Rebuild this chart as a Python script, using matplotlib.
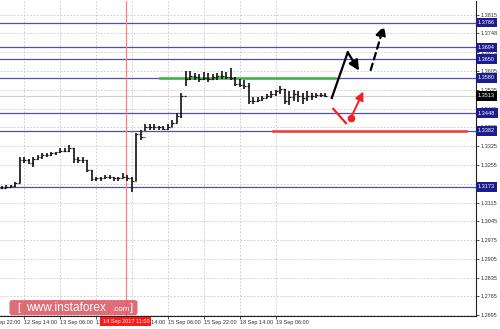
import matplotlib.pyplot as plt
from matplotlib.patches import FancyBboxPatch
import numpy as np

plt.rcParams['font.family'] = ['Liberation Sans', 'DejaVu Sans']

# hourly bar index: 0 = 12 Sep 14:00, bars are 2 hours wide here
bar_x = np.arange(-10, 136, 2)

highs = [1.3175, 1.3179, 1.3179, 1.3190, 1.3283, 1.3283, 1.3279, 1.3283, 1.3291, 1.3298,
         1.3298, 1.3305, 1.3305, 1.3317, 1.3317, 1.3328, 1.3320, 1.3283, 1.3283, 1.3272,
         1.3238, 1.3212, 1.3212, 1.3216, 1.3216, 1.3212, 1.3212, 1.3224, 1.3216, 1.3212,
         1.3376, 1.3384, 1.3406, 1.3406, 1.3406, 1.3402, 1.3402, 1.3406, 1.3421, 1.3447,
         1.3525, 1.3607, 1.3607, 1.3599, 1.3596, 1.3603, 1.3599, 1.3596, 1.3599, 1.3607,
         1.3603, 1.3618, 1.3584, 1.3577, 1.3570, 1.3562, 1.3510, 1.3510, 1.3514, 1.3521,
         1.3529, 1.3536, 1.3551, 1.3540, 1.3532, 1.3536, 1.3532, 1.3525, 1.3532, 1.3525,
         1.3525, 1.3525, 1.3525]
lows = [1.3164, 1.3168, 1.3168, 1.3172, 1.3186, 1.3261, 1.3257, 1.3246, 1.3272, 1.3279,
        1.3283, 1.3287, 1.3291, 1.3298, 1.3302, 1.3305, 1.3264, 1.3261, 1.3264, 1.3227,
        1.3194, 1.3194, 1.3197, 1.3201, 1.3201, 1.3197, 1.3197, 1.3205, 1.3194, 1.3153,
        1.3197, 1.3350, 1.3380, 1.3387, 1.3387, 1.3387, 1.3384, 1.3387, 1.3395, 1.3413,
        1.3432, 1.3551, 1.3570, 1.3570, 1.3566, 1.3570, 1.3566, 1.3570, 1.3573, 1.3577,
        1.3577, 1.3570, 1.3551, 1.3544, 1.3540, 1.3484, 1.3484, 1.3491, 1.3495, 1.3503,
        1.3506, 1.3514, 1.3521, 1.3484, 1.3477, 1.3495, 1.3491, 1.3484, 1.3495, 1.3499,
        1.3506, 1.3510, 1.3510]
closes = [1.3168, 1.3172, 1.3175, 1.3186, 1.3272, 1.3272, 1.3264, 1.3276, 1.3283, 1.3291,
          1.3291, 1.3298, 1.3302, 1.3309, 1.3309, 1.3320, 1.3276, 1.3272, 1.3272, 1.3235,
          1.3201, 1.3205, 1.3205, 1.3209, 1.3209, 1.3205, 1.3205, 1.3212, 1.3205, 1.3197,
          1.3369, 1.3361, 1.3398, 1.3398, 1.3395, 1.3395, 1.3391, 1.3398, 1.3413, 1.3436,
          1.3514, 1.3577, 1.3588, 1.3584, 1.3577, 1.3581, 1.3577, 1.3584, 1.3588, 1.3588,
          1.3584, 1.3581, 1.3558, 1.3555, 1.3551, 1.3495, 1.3495, 1.3499, 1.3506, 1.3514,
          1.3521, 1.3529, 1.3540, 1.3495, 1.3510, 1.3521, 1.3514, 1.3506, 1.3514, 1.3514,
          1.3517, 1.3517, 1.3513]

level_lines = [1.3786, 1.3694, 1.3650, 1.3580, 1.3448, 1.3382, 1.3173]
current_price = 1.3513
y_ticks = [1.3815, 1.3748, 1.3675, 1.3605, 1.3535, 1.3465, 1.3395, 1.3325, 1.3255,
           1.3185, 1.3115, 1.3045, 1.2975, 1.2905, 1.2835, 1.2765, 1.2695]
x_ticks = [0, 16, 32, 48, 64, 80, 96, 112]
x_labels = ['12 Sep 14:00', '13 Sep 06:00', '13 Sep 22:00', '14 Sep 14:00',
            '15 Sep 06:00', '15 Sep 22:00', '18 Sep 14:00', '19 Sep 06:00']
first_tick = -16
first_label = '11 Sep 22:00'
cursor_label = '14 Sep 2017 11:00'
cursor_x = 45.3

# forecast drawing (bar index, price)
black_path_x = [136.8, 143.9, 148.9]
black_path_y = [1.3505, 1.3675, 1.3607]
black_dash_x = [154.1, 160.0]
black_dash_y = [1.3609, 1.3774]
red_slash_x = [137.5, 143.1]
red_slash_y = [1.3464, 1.3411]
red_arrow_x = [145.3, 150.8]
red_arrow_y = [1.3431, 1.3529]
green_x = [60.4, 138.2]
green_y = 1.3580
red_level_x = [110.7, 196.4]
red_level_y = 1.3382

level_col = '#5050aa'
y_bottom = 1.2692
fs = 4.0

fig = plt.figure(figsize=(5.0, 3.29), dpi=100)
ax = fig.add_axes([0, 0.0395, 0.952, 0.958])
ax.set_xlim(-10.67, 200.9)
ax.set_ylim(y_bottom, 1.3867)

ax.set_yticks(y_ticks)
ax.set_yticklabels(['%.4f' % v for v in y_ticks])
ax.set_xticks(x_ticks)
ax.set_xticklabels(x_labels)
ax.yaxis.tick_right()
ax.tick_params(axis='y', labelsize=fs, length=2, width=0.6, pad=1.5, colors='#333333')
ax.tick_params(axis='x', labelsize=fs, length=2, width=0.6, pad=1, colors='#333333')
for lbl in ax.get_xticklabels():
    lbl.set_horizontalalignment('left')
ax.grid(True, color='#c8c8c8', linestyle=(0, (2, 2)), linewidth=0.6)
for s in ['left', 'top']:
    ax.spines[s].set_visible(False)
ax.spines['right'].set_color('#222222')
ax.spines['bottom'].set_color('#222222')
ax.spines['right'].set_linewidth(0.8)
ax.spines['bottom'].set_linewidth(0.8)

# first time label sits left of the chart and is cut by the edge
ax.annotate(first_label, xy=(first_tick, y_bottom), xytext=(0, -3), textcoords='offset points',
            fontsize=fs, color='#333333', ha='left', va='top', annotation_clip=False)

# level lines
for lv in level_lines:
    ax.axhline(lv, color=level_col, linewidth=0.9, zorder=2)
ax.axhline(current_price, color='#cfcfcf', linewidth=0.8, zorder=1)
ax.axvline(cursor_x, color='#ff8080', linewidth=0.9, zorder=2)
ax.plot(green_x, [green_y, green_y], color='#3cb043', linewidth=1.8, zorder=3)
ax.plot(red_level_x, [red_level_y, red_level_y], color='#ee3b3b', linewidth=1.8, zorder=3)

# ohlc bars
opens = [closes[0]] + closes[:-1]
ax.vlines(bar_x, lows, highs, color='#111111', linewidth=1.2, zorder=4)
ax.hlines(opens, bar_x - 0.8, bar_x, color='#111111', linewidth=0.9, zorder=4)
ax.hlines(closes, bar_x, bar_x + 0.8, color='#111111', linewidth=0.9, zorder=4)

# forecast arrows
ax.plot(black_path_x[:2], black_path_y[:2], color='black', linewidth=1.6, zorder=5)
ax.annotate('', xy=(black_path_x[2], black_path_y[2]), xytext=(black_path_x[1], black_path_y[1]),
            arrowprops=dict(arrowstyle='-|>,head_length=0.6,head_width=0.3', color='black', lw=1.6,
                            shrinkA=0, shrinkB=0), zorder=5)
ax.annotate('', xy=(black_dash_x[1], black_dash_y[1]), xytext=(black_dash_x[0], black_dash_y[0]),
            arrowprops=dict(arrowstyle='-|>,head_length=0.6,head_width=0.3', color='black', lw=1.6,
                            linestyle=(0, (3, 2)), shrinkA=0, shrinkB=0), zorder=5)
ax.plot(red_slash_x, red_slash_y, color='#ee2222', linewidth=1.6, zorder=5)
ax.annotate('', xy=(red_arrow_x[1], red_arrow_y[1]), xytext=(red_arrow_x[0], red_arrow_y[0]),
            arrowprops=dict(arrowstyle='-|>,head_length=0.5,head_width=0.25', color='#ee2222', lw=1.4,
                            shrinkA=0, shrinkB=0), zorder=5)
ax.plot(red_arrow_x[0], red_arrow_y[0], 'o', color='#ee2222', markersize=4.5, zorder=6)

# price labels on the right axis
for lv in level_lines:
    ax.text(1.004, lv, '%.4f' % lv, transform=ax.get_yaxis_transform(), fontsize=fs,
            color='white', va='center', ha='left', zorder=10, clip_on=False,
            bbox=dict(boxstyle='square,pad=0.4', fc='#1c1c8a', ec='none'))
ax.text(1.004, current_price, '%.4f' % current_price, transform=ax.get_yaxis_transform(),
        fontsize=fs, color='white', va='center', ha='left', zorder=10, clip_on=False,
        bbox=dict(boxstyle='square,pad=0.4', fc='black', ec='none'))

# cursor time label
ax.annotate(cursor_label, xy=(cursor_x, y_bottom), xytext=(0, -2.2), textcoords='offset points',
            fontsize=fs, color='white', ha='center', va='top', annotation_clip=False, zorder=10,
            bbox=dict(boxstyle='square,pad=0.4', fc='#ff1a1a', ec='none'))

# watermark
wm = FancyBboxPatch((0.022, 0.045), 0.25, 0.04, boxstyle='round,pad=0.003,rounding_size=0.006',
                    transform=fig.transFigure, fc='#d9535f', ec='none', alpha=0.85, zorder=20)
fig.patches.append(wm)
fig.text(0.034, 0.065, '[', fontsize=8, color='white', va='center', ha='left', zorder=21)
fig.text(0.052, 0.065, 'www.instaforex', fontsize=8.6, color='white', va='center', ha='left', zorder=21)
fig.text(0.224, 0.060, '.com', fontsize=5.8, color='white', va='center', ha='left', zorder=21)
fig.text(0.259, 0.065, ']', fontsize=8, color='white', va='center', ha='left', zorder=21)

fig.savefig('out.png', dpi=100)
